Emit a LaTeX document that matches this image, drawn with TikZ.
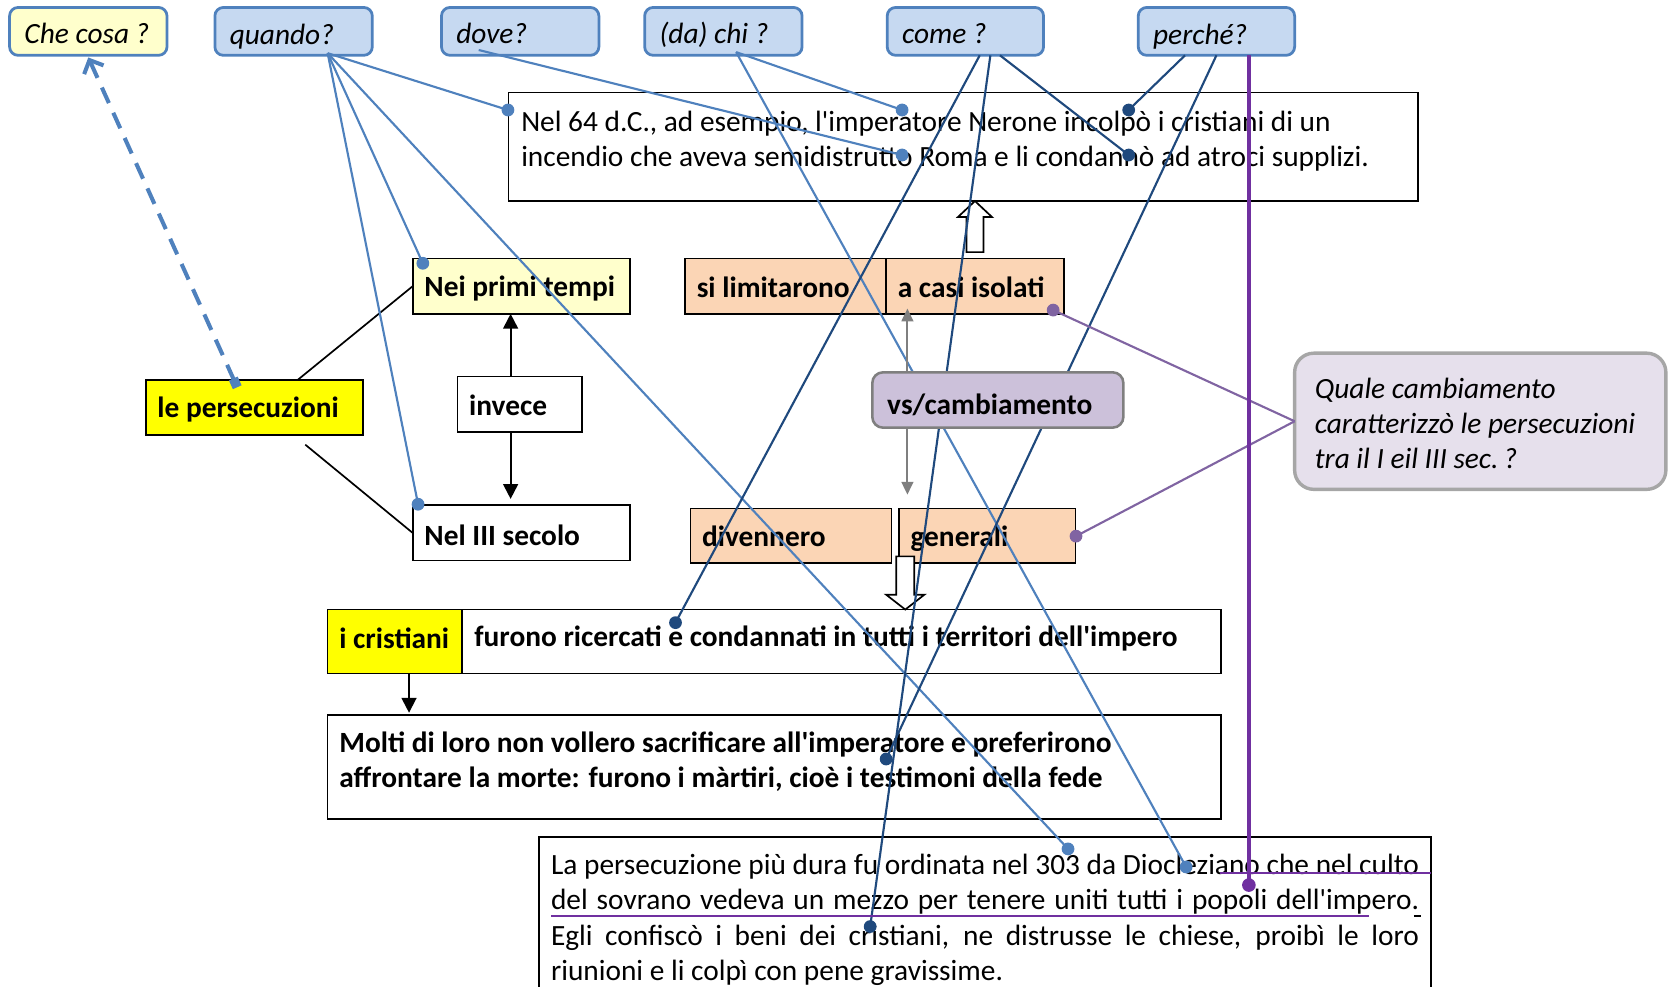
\documentclass[tikz,border=0pt]{standalone}
\usepackage{fontspec}
\setmainfont{Carlito}
\usetikzlibrary{arrows.meta,calc}
\definecolor{qfill}{HTML}{C6D9F1}
\definecolor{qblue}{HTML}{4F81BD}
\definecolor{pale}{HTML}{FFFFCC}
\definecolor{yel}{HTML}{FFFF00}
\definecolor{peach}{HTML}{FBD5B5}
\definecolor{vsfill}{HTML}{CCC1DA}
\definecolor{vsdraw}{HTML}{7F7F7F}
\definecolor{callfill}{HTML}{E6E0EC}
\definecolor{calldraw}{HTML}{A6A6A6}
\definecolor{dblue}{HTML}{1F497D}
\definecolor{lblue}{HTML}{4F81BD}
\definecolor{purp}{HTML}{7030A0}
\definecolor{cpurp}{HTML}{8064A2}
\newcommand\ap{\textquotesingle}
% style, name, x1, y1, x2, y2, vpos, pad(px), text
\newcommand\bx[9]{%
  \pgfmathsetmacro\myBW{(#5-#3)*0.5-#8}%
  \pgfmathsetmacro\myBH{(#6-#4)*0.5}%
  \pgfmathsetmacro\myPad{#8*0.5}%
  \node[#1, anchor=north west, inner xsep=\myPad pt, inner ysep=0pt, outer sep=0pt] (#2) at (#3,#4)
    {\parbox[c][\myBH pt][#7]{\myBW pt}{\vspace*{2pt}#9}};}
\begin{document}
\begin{tikzpicture}[x=0.5pt,y=-0.5pt,
  base/.style={font=\fontsize{13.8pt}{16.6pt}\selectfont},
  bbase/.style={font=\fontsize{13.8pt}{16.6pt}\selectfont\bfseries},
  ibase/.style={font=\fontsize{13.8pt}{16.6pt}\selectfont\itshape},
  qbox/.style={ibase, draw=qblue, line width=1.3pt, rounded corners=4pt, fill=qfill},
  rbox/.style={base, draw=black, line width=0.8pt, fill=white},
  bbox/.style={bbase, draw=black, line width=0.8pt, fill=white},
  vsbox/.style={bbase, draw=vsdraw, line width=1.2pt, rounded corners=5pt, fill=vsfill},
  callbox/.style={ibase, draw=calldraw, line width=1.6pt, rounded corners=9pt, fill=callfill},
  blk/.style={draw=black, line width=0.9pt, -{Triangle[length=7pt,width=7pt]}},
  gry/.style={draw=vsdraw, line width=1pt, -{Triangle[length=6pt,width=5.5pt]}},
  hollow/.style={draw=black, line width=0.8pt, fill=white},
  lb/.style={draw=lblue, line width=1pt},
  db/.style={draw=dblue, line width=1pt},
  cp/.style={draw=cpurp, line width=1pt},
  lbdot/.style={fill=lblue},
  dbdot/.style={fill=dblue},
]
\useasboundingbox (0,0) rectangle (1568,927);

% question boxes
\bx{qbox,fill=pale}{checosa}{9}{7}{157}{52}{c}{14}{Che cosa ?}
\bx{qbox}{quando}{202}{7}{350}{52}{c}{14}{\vspace*{2.5pt}quando?}
\bx{qbox}{dove}{415}{7}{563}{52}{c}{14}{dove?}
\bx{qbox}{chi}{606}{7}{754}{52}{c}{14}{\vspace*{1.5pt}(da) chi ?}
\bx{qbox}{come}{834}{7}{981}{52}{c}{14}{come ?}
\bx{qbox}{perche}{1070}{7}{1217}{52}{c}{14}{\vspace*{2.5pt}perché?}

% main boxes
\bx{rbox}{nel64}{478}{87}{1333}{189}{t}{12}{\vspace*{6.5pt}Nel 64 d.C., ad esempio, l\ap imperatore Nerone incolpò i cristiani di un\\incendio che aveva semidistrutto Roma e li condannò ad atroci supplizi.}
\bx{bbox,fill=pale}{primi}{388}{243}{592}{295}{c}{11}{Nei primi tempi}
\bx{bbox,fill=yel}{lepers}{137}{357}{341}{409}{c}{11}{le persecuzioni}
\bx{bbox}{invece}{430}{354}{547}{406}{c}{11}{\vspace*{-1pt}invece}
\bx{bbox}{terzo}{388}{475}{592}{527}{c}{11}{Nel III secolo}
\bx{bbox,fill=peach}{limit}{644}{243}{833}{295}{c}{11}{\vspace*{-1pt}si limitarono}
\bx{bbox,fill=peach}{casi}{833}{243}{1000}{295}{c}{11}{\vspace*{-1pt}a casi isolati}
\bx{bbox,fill=peach}{divenn}{649}{478}{838}{529}{c}{11}{\vspace*{-1pt}divennero}
\bx{bbox,fill=peach}{gener}{845}{478}{1011}{529}{c}{11}{\vspace*{1pt}generali}
\bx{bbox,fill=yel}{icrist}{308}{573}{434}{633}{c}{11}{\vspace*{-5pt}i cristiani}
\bx{bbox}{furono}{434}{573}{1148}{633}{c}{12}{\vspace*{-5pt}furono ricercati e condannati in tutti i territori dell\ap impero}
\bx{bbox}{molti}{308}{672}{1148}{770}{t}{11}{\vspace*{6pt}Molti di loro non vollero sacrificare all\ap imperatore e preferirono\\affrontare la morte: furono i màrtiri, cioè i testimoni della fede}
\bx{rbox}{lapers}{507}{787}{1345}{960}{t}{11}{\vspace*{6pt}\makebox[\linewidth][s]{La persecuzione più dura fu ordinata nel 303 da Diocleziano che nel culto}\\
\makebox[\linewidth][s]{del sovrano vedeva un mezzo per tenere uniti tutti i popoli dell\ap impero.}\\
\makebox[\linewidth][s]{Egli confiscò i beni dei cristiani, ne distrusse le chiese, proibì le loro}\\
riunioni e li colpì con pene gravissime.}

% black connectors
\draw[line width=0.8pt] ([xshift=20.5pt]lepers.north) -- (primi.west);
\draw[line width=0.8pt] ([xshift=24pt,yshift=-4.5pt]lepers.south) -- (terzo.west);
\draw[blk] ([xshift=-4.25pt]invece.north) -- ([xshift=-4.25pt]invece.north |- primi.south);
\draw[blk] ([xshift=-4.25pt]invece.south) -- ([xshift=-4.25pt,yshift=3pt]invece.south |- terzo.north);
\draw[blk] ([xshift=6.75pt]icrist.south) -- ([xshift=6.75pt,yshift=1pt]icrist.south |- molti.north);

% hollow arrows
\coordinate (ua) at ($(casi.north)+(0,-6)$);
\coordinate (ut) at (casi.north |- nel64.south);
\draw[hollow] ($(ua)+(-8,0)$) -- ($(ut)+(-8,15)$) -- ($(ut)+(-16,15)$) -- (ut)
  -- ($(ut)+(16,15)$) -- ($(ut)+(8,15)$) -- ($(ua)+(8,0)$) -- cycle;
\coordinate (dt) at ($(gener.south west |- furono.north)+(6,0)$);
\coordinate (da) at ($(gener.south west)+(6,-6)$);
\draw[hollow] ($(da)+(-8.5,0)$) -- ($(dt)+(-8.5,-14)$) -- ($(dt)+(-18,-14)$) -- (dt)
  -- ($(dt)+(18,-14)$) -- ($(dt)+(8.5,-14)$) -- ($(da)+(8.5,0)$) -- cycle;

% dashed arrow
\coordinate (sq) at ($(lepers.north)+(-16,7)$);
\draw[lblue, line width=1.9pt, dash pattern=on 8pt off 5pt,
  {Square[length=4.5pt,width=4.5pt]}-{Straight Barb[length=5pt,width=10pt]}] (sq) -- ([yshift=-1pt]checosa.south);

% dot positions
\coordinate (q1) at (477.5,103.4);
\coordinate (q2) at (397.5,247.5);
\coordinate (q3) at (393,474);
\coordinate (q4) at (1004,798);
\coordinate (dv) at (848,145.7);
\coordinate (c1) at (848,103.4);
\coordinate (c2) at (1115,815);
\coordinate (m1) at (635,585.3);
\coordinate (m2) at (818,871);
\coordinate (m3) at (1061,145.7);
\coordinate (r1) at (1061,103.4);
\coordinate (r2) at (833,713.5);
\coordinate (pv) at (1174,832);
\coordinate (g1) at (990,291.5);
\coordinate (g2) at (1011.5,504);

% light blue connectors
\foreach \t in {q1,q2,q3,q4} \draw[lb] ([xshift=16pt,yshift=1pt]quando.south) -- (\t);
\draw[lb] ([xshift=-19.5pt,yshift=2.5pt]dove.south) -- (dv);
\draw[lb] ([xshift=6pt,yshift=1.5pt]chi.south) -- (c1);
\draw[lb] ([xshift=6pt,yshift=1.5pt]chi.south) -- (c2);
\foreach \t in {q1,q2,q3,q4,dv,c1,c2} \fill[lbdot] (\t) circle (3pt);

% dark blue connectors
\draw[db] ([xshift=6.75pt]come.south) -- (m1);
\draw[db] ([xshift=11.75pt]come.south) -- (m2);
\draw[db] ([xshift=16.25pt]come.south) -- (m3);
\draw[db] ([xshift=-14.75pt]perche.south) -- (r1);
\draw[db] (perche.south) -- (r2);
\foreach \t in {m1,m2,m3,r1,r2} \fill[dbdot] (\t) circle (3pt);

% vs/cambiamento on top
\bx{vsbox}{vs}{820}{350}{1056}{402}{c}{14}{\vspace*{2.5pt}vs/cambiamento}
\draw[gry] ([xshift=-42.5pt]vs.north) -- ([xshift=-42.5pt,yshift=2.5pt]vs.north |- casi.south);
\draw[gry] ([xshift=-42.5pt]vs.south) -- ([xshift=-42.5pt,yshift=6.5pt]vs.south |- gener.north);

% callout
\bx{callbox}{quale}{1217}{332}{1566}{460}{c}{19}{Quale cambiamento\\caratterizzò le persecuzioni\\tra il I eil III sec.\,?}
\draw[cp] (quale.west) -- (g1);
\draw[cp] (quale.west) -- (g2);
\fill[cpurp] (g1) circle (3pt);
\fill[cpurp] (g2) circle (3pt);

% purple marks
\draw[purp, line width=1.6pt] ([xshift=15.25pt]perche.south) -- (pv);
\fill[purp] (pv) circle (3.2pt);
\draw[purp, line width=1pt] (1147,821) -- (lapers.east |- 0,821);
\draw[purp, line width=1.2pt] (518,861) -- (1287,861);
\draw[black, line width=0.8pt] (1329,861) -- (1336,861);
\end{tikzpicture}
\end{document}
